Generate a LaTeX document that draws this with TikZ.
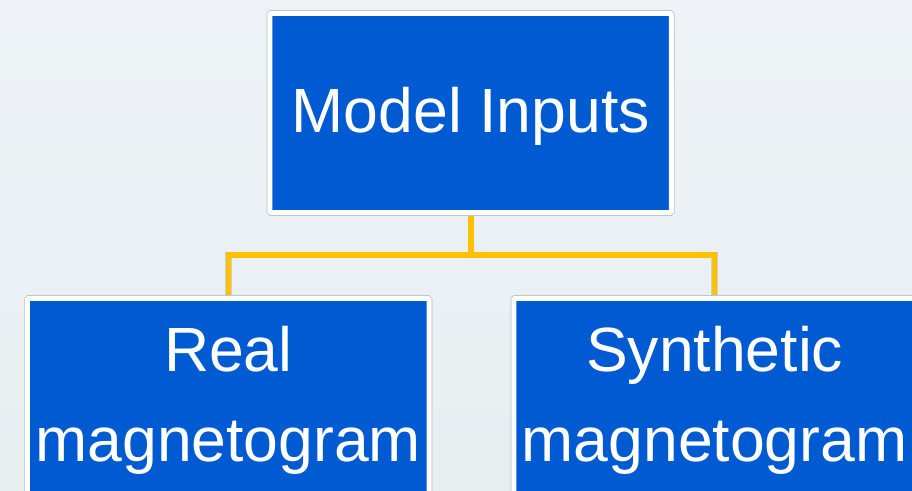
\documentclass[tikz,border=0pt]{standalone}
\usepackage{fontspec}
\setmainfont{Liberation Sans}
\usetikzlibrary{backgrounds}
\definecolor{boxblue}{HTML}{005BD3}
\definecolor{linkyellow}{HTML}{FFC000}
\definecolor{edgegray}{HTML}{B4BCC4}
\definecolor{bgtop}{HTML}{EEF2F6}
\definecolor{bgbottom}{HTML}{E7EFF1}
\begin{document}
\begin{tikzpicture}[x=1pt,y=-1pt,
  box/.style={rectangle, inner sep=0pt, minimum width=401.7pt, minimum height=199.3pt,
    fill=boxblue, draw=white, line width=5pt, rounded corners=1.5pt,
    preaction={draw=edgegray, line width=6.4pt, rounded corners=2pt}},
  label/.style={anchor=base, text=white, inner sep=0pt,
    font=\fontsize{62.5}{90}\selectfont},
  link/.style={draw=linkyellow, line width=5.4pt, line join=miter,
    preaction={draw=edgegray!70, line width=6.6pt}}]
  % page size
  \useasboundingbox (0,0) rectangle (912,490);
  \clip (0,0) rectangle (912,490);

  % the three boxes
  \node[box] (top) at (470.6,112.9) {};
  \node[box] (left) at (228.3,397.9) {};
  \node[box] (right) at (714.6,397.9) {};

  % texts
  \node[label] (t1) at (470.8,132.7) {Model Inputs};
  \node[label] (t2) at (228.3,371.7) {Real};
  \node[label] (t3) at (228.3,461.7) {magnetogram};
  \node[label] (t4) at (714.6,371.7) {Synthetic};
  \node[label] (t5) at (714.6,461.7) {magnetogram};

  % background and the tree links, under the boxes
  \coordinate (j) at (471,255);
  \coordinate (topfoot) at (471,212);
  \begin{pgfonlayer}{background}
    \shade[top color=bgtop, bottom color=bgbottom] (0,0) rectangle (912,490);
    \draw[link] (topfoot) -- (j);
    \draw[link] (j) -| (left.north);
    \draw[link] (j) -| (right.north);
  \end{pgfonlayer}
\end{tikzpicture}
\end{document}
